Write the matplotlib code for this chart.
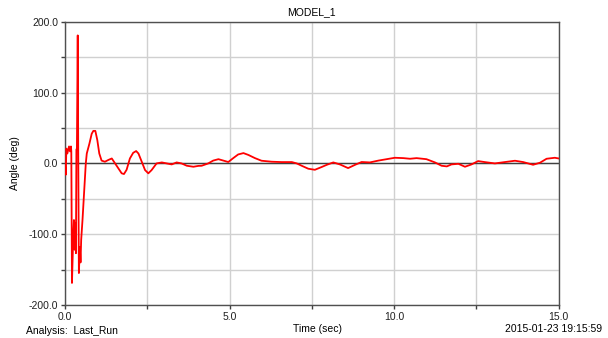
import matplotlib
matplotlib.use("Agg")
import matplotlib.pyplot as plt
from matplotlib.ticker import MultipleLocator, FormatStrFormatter

plt.rcParams['font.family'] = ['Liberation Sans', 'DejaVu Sans']

# Data (time in s, angle in deg)
time_sec = [0.00, 0.02, 0.04, 0.07, 0.12, 0.15, 0.18, 0.19, 0.21, 0.25, 0.27, 0.29,
            0.31, 0.33, 0.345, 0.36, 0.385, 0.40, 0.42, 0.45, 0.47, 0.49, 0.53,
            0.58, 0.63, 0.66, 0.74, 0.81, 0.86, 0.92, 0.98, 1.04, 1.11, 1.21, 1.32,
            1.42, 1.52, 1.62, 1.72, 1.79, 1.87, 1.97, 2.07, 2.16, 2.23, 2.33, 2.43,
            2.53, 2.63, 2.78, 2.94, 3.09, 3.24, 3.39, 3.54, 3.70, 3.90, 4.05, 4.15,
            4.35, 4.50, 4.66, 4.81, 4.96, 5.11, 5.26, 5.42, 5.57, 5.77, 5.97, 6.28,
            6.58, 6.89, 7.04, 7.19, 7.39, 7.59, 7.80, 7.95, 8.15, 8.35, 8.60, 8.81,
            9.01, 9.26, 9.52, 9.77, 10.02, 10.28, 10.48, 10.68, 10.98, 11.24, 11.44,
            11.60, 11.74, 11.95, 12.15, 12.35, 12.55, 12.75, 13.06, 13.36, 13.67,
            13.92, 14.22, 14.43, 14.63, 14.88, 15.00]
angle_deg = [0.0, -16.0, 21.0, 14.0, 24.0, 17.0, 24.0, 17.0, -169.0, -100.0, -80.0, -122.0,
             -84.0, -127.0, 20.0, 20.0, 181.0, 19.0, -155.0, -118.0, -140.0, -108.0, -80.0,
             -40.0, 0.0, 14.0, 28.0, 42.0, 46.0, 46.0, 33.0, 14.0, 4.0, 2.4, 5.0,
             7.0, 0.0, -7.0, -14.0, -15.0, -9.0, 7.0, 15.0, 17.5, 14.0, 2.4, -9.4,
             -14.0, -9.4, 0.0, 1.4, 0.0, -1.4, 1.4, 0.0, -3.3, -4.7, -3.5, -3.3,
             0.0, 4.0, 6.0, 4.0, 2.0, 7.5, 12.7, 14.6, 12.0, 7.5, 3.8, 2.4,
             1.9, 1.9, 0.0, -3.3, -7.5, -9.0, -5.0, -2.0, 1.4, -1.4, -6.6, -2.0,
             2.0, 1.4, 4.0, 6.0, 8.0, 7.5, 6.6, 7.5, 6.0, 1.4, -3.3,
             -4.2, -1.4, -0.5, -4.7, -1.4, 3.3, 1.9, 0.0, 1.9, 3.8,
             1.9, -1.9, 1.0, 6.6, 8.0, 7.0]

fig = plt.figure(figsize=(6.08, 3.38), dpi=100)
ax = fig.add_axes([0.107, 0.098, 0.812, 0.837])

ax.plot(time_sec, angle_deg, color='#ff0000', linewidth=1.3, zorder=3)
ax.axhline(0, color='#404040', linewidth=1.0, zorder=2)

ax.set_xlim(0, 15)
ax.set_ylim(-200, 200)
ax.xaxis.set_major_locator(MultipleLocator(5))
ax.xaxis.set_minor_locator(MultipleLocator(2.5))
ax.yaxis.set_major_locator(MultipleLocator(100))
ax.yaxis.set_minor_locator(MultipleLocator(50))
ax.xaxis.set_major_formatter(FormatStrFormatter('%.1f'))
ax.yaxis.set_major_formatter(FormatStrFormatter('%.1f'))

ax.grid(True, which='both', color='#d0d0d0', linewidth=1.0, zorder=1)
ax.set_axisbelow(True)
ax.tick_params(which='both', direction='out', length=3, width=1, color='#404040',
               labelsize=7.5, labelcolor='#202020', pad=2)
for s in ax.spines.values():
    s.set_color('#505050')
    s.set_linewidth(1.0)

ax.set_title('MODEL_1', fontsize=7.5, pad=5)
ax.set_ylabel('Angle (deg)', fontsize=7.5, labelpad=6)
fig.text(0.523, 0.028, 'Time (sec)', fontsize=7.5, ha='center', va='center')
fig.text(0.042, 0.02, 'Analysis:  Last_Run', fontsize=7.5, ha='left', va='center')
fig.text(0.99, 0.028, '2015-01-23 19:15:59', fontsize=7.5, ha='right', va='center')

fig.savefig('out.png', dpi=100)
